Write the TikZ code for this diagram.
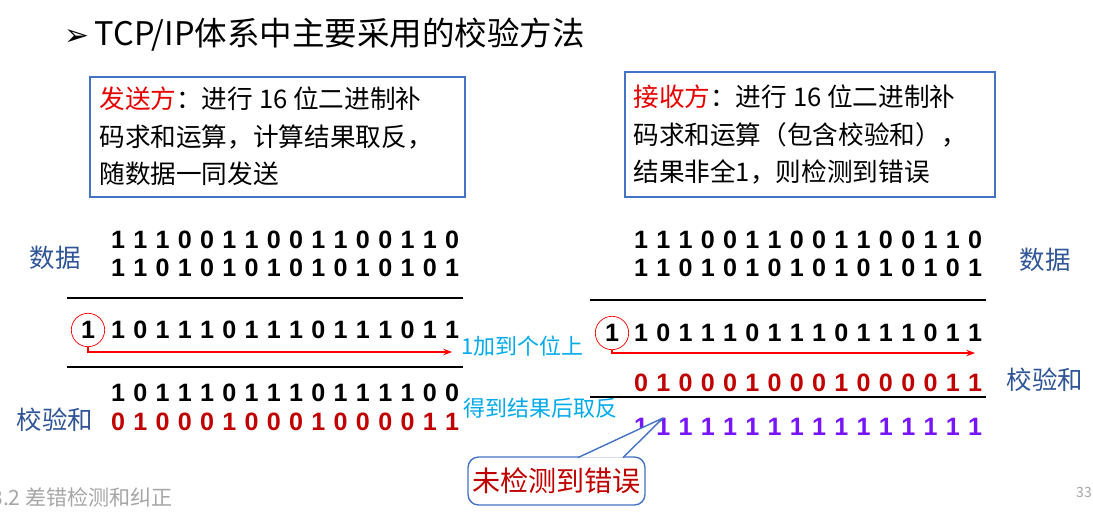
\documentclass[tikz,border=0pt]{standalone}
\usepackage{fontspec}
\setmainfont{Noto Sans CJK SC}
\newfontfamily\digf{Liberation Sans}
\newfontfamily\symf{DejaVu Sans}
\definecolor{boxblue}{RGB}{68,114,196}
\definecolor{lblblue}{RGB}{47,85,151}
\definecolor{cyantxt}{RGB}{0,170,235}
\definecolor{dred}{RGB}{192,0,0}
\definecolor{brred}{RGB}{230,0,0}
\definecolor{purp}{RGB}{120,20,250}
\tikzset{
  dig/.style={inner sep=0pt,font=\digf\bfseries\fontsize{14.3}{16}\selectfont},
  boxframe/.style={draw=boxblue,line width=0.8pt},
  infotxt/.style={align=left,anchor=north west,inner sep=0pt,font=\fontsize{14.6}{21.6}\selectfont},
  lbl/.style={text=lblblue,font=\fontsize{14.5}{17}\selectfont,inner sep=0pt},
  note/.style={text=cyantxt,font=\fontsize{12.5}{15}\selectfont,inner sep=0pt,anchor=west},
  rule/.style={line width=0.8pt},
  carry/.style={draw=red,circle,inner sep=1.2pt,minimum size=19pt},
  carryarr/.style={draw=red,line width=0.6pt,-{Stealth[length=5pt]}},
}
\usetikzlibrary{arrows.meta}
\newcommand{\digrow}[5]{% name, x0, y, color, digits
  \foreach \d [count=\i from 0] in {#5} \node[dig,text=#4] (#1-\i) at ({#2+\i*22.27},#3) {\d};}
\begin{document}
\begin{tikzpicture}[x=0.02cm,y=-0.02cm]
\useasboundingbox (0,0) rectangle (1093,513);
% title
\node[anchor=west,inner sep=0pt,font=\fontsize{18.5}{22}\selectfont] (title) at (64,35) {{\symf\fontsize{17}{20}\selectfont ➢}\,TCP/IP体系中主要采用的校验方法};
% boxes
\draw[boxframe] (90,77) rectangle (465,197);
\node[infotxt] (ltxt) at (99,86) {\textcolor{brred}{发送方}：进行 16 位二进制补\\码求和运算，计算结果取反，\\随数据一同发送};
\draw[boxframe] (625,72) rectangle (995,197);
\node[infotxt] (rtxt) at (633,84) {\textcolor{brred}{接收方}：进行 16 位二进制补\\码求和运算（包含校验和），\\结果非全1，则检测到错误};
% left side
\node[lbl] (ldata) at (55,258) {数据};
\digrow{la}{118}{240}{black}{1,1,1,0,0,1,1,0,0,1,1,0,0,1,1,0}
\digrow{lb}{118}{268}{black}{1,1,0,1,0,1,0,1,0,1,0,1,0,1,0,1}
\coordinate (l1s) at (67,298); \coordinate (l1e) at (463,298);
\draw[rule] (l1s) -- (l1e);
\node[dig,carry] (lc) at (88,330) {1};
\digrow{lsum}{118}{330}{black}{1,0,1,1,1,0,1,1,1,0,1,1,1,0,1,1}
\coordinate (la2) at (452,352);
\draw[carryarr] (lc.south) |- (la2);
\node[note] (n1) at (461,346) {1加到个位上};
\coordinate (l2s) at (67,367); \coordinate (l2e) at (463,367);
\draw[rule] (l2s) -- (l2e);
\digrow{lres}{118}{393}{black}{1,0,1,1,1,0,1,1,1,0,1,1,1,1,0,0}
\digrow{lck}{118}{422}{dred}{0,1,0,0,0,1,0,0,0,1,0,0,0,0,1,1}
\node[lbl] (lckl) at (55,420) {校验和};
\node[note] (n2) at (463,408) {得到结果后取反};
% right side
\digrow{ra}{641}{240}{black}{1,1,1,0,0,1,1,0,0,1,1,0,0,1,1,0}
\digrow{rb}{641}{268}{black}{1,1,0,1,0,1,0,1,0,1,0,1,0,1,0,1}
\node[lbl] (rdata) at (1045,260) {数据};
\coordinate (r1s) at (590,300); \coordinate (r1e) at (986,300);
\draw[rule] (r1s) -- (r1e);
\node[dig,carry] (rc) at (612,333) {1};
\digrow{rsum}{641}{333}{black}{1,0,1,1,1,0,1,1,1,0,1,1,1,0,1,1}
\coordinate (ra2) at (975,353);
\draw[carryarr] (rc.south) |- (ra2);
\digrow{rck}{641}{383}{dred}{0,1,0,0,0,1,0,0,0,1,0,0,0,0,1,1}
\node[lbl] (rckl) at (1045,380) {校验和};
\coordinate (r2s) at (590,397); \coordinate (r2e) at (986,397);
\draw[rule] (r2s) -- (r2e);
\digrow{rall}{641}{427}{purp}{1,1,1,1,1,1,1,1,1,1,1,1,1,1,1,1}
% callout
\node[draw=boxblue,line width=0.8pt,rounded corners=6pt,fill=white,minimum width=3.54cm,minimum height=0.96cm,text=dred,font=\fontsize{16}{19}\selectfont,inner sep=0pt] (call) at (556.5,481) {未检测到错误};
\coordinate (ctip) at (663,418);
\coordinate (cb1) at (578,457.6); \coordinate (cb2) at (623,457.6);
\fill[white] (cb1) -- (ctip) -- (cb2) -- cycle;
\draw[boxblue,line width=0.8pt,line join=round] (cb1) -- (ctip) -- (cb2);
% footer
\node[anchor=west,inner sep=0pt,text=gray!70,font=\fontsize{12}{14}\selectfont] (foot) at (-9,497) {3.2 差错检测和纠正};
\node[inner sep=0pt,text=gray!70,font=\fontsize{8}{10}\selectfont] (pg) at (1084,492) {33};
\end{tikzpicture}
\end{document}
